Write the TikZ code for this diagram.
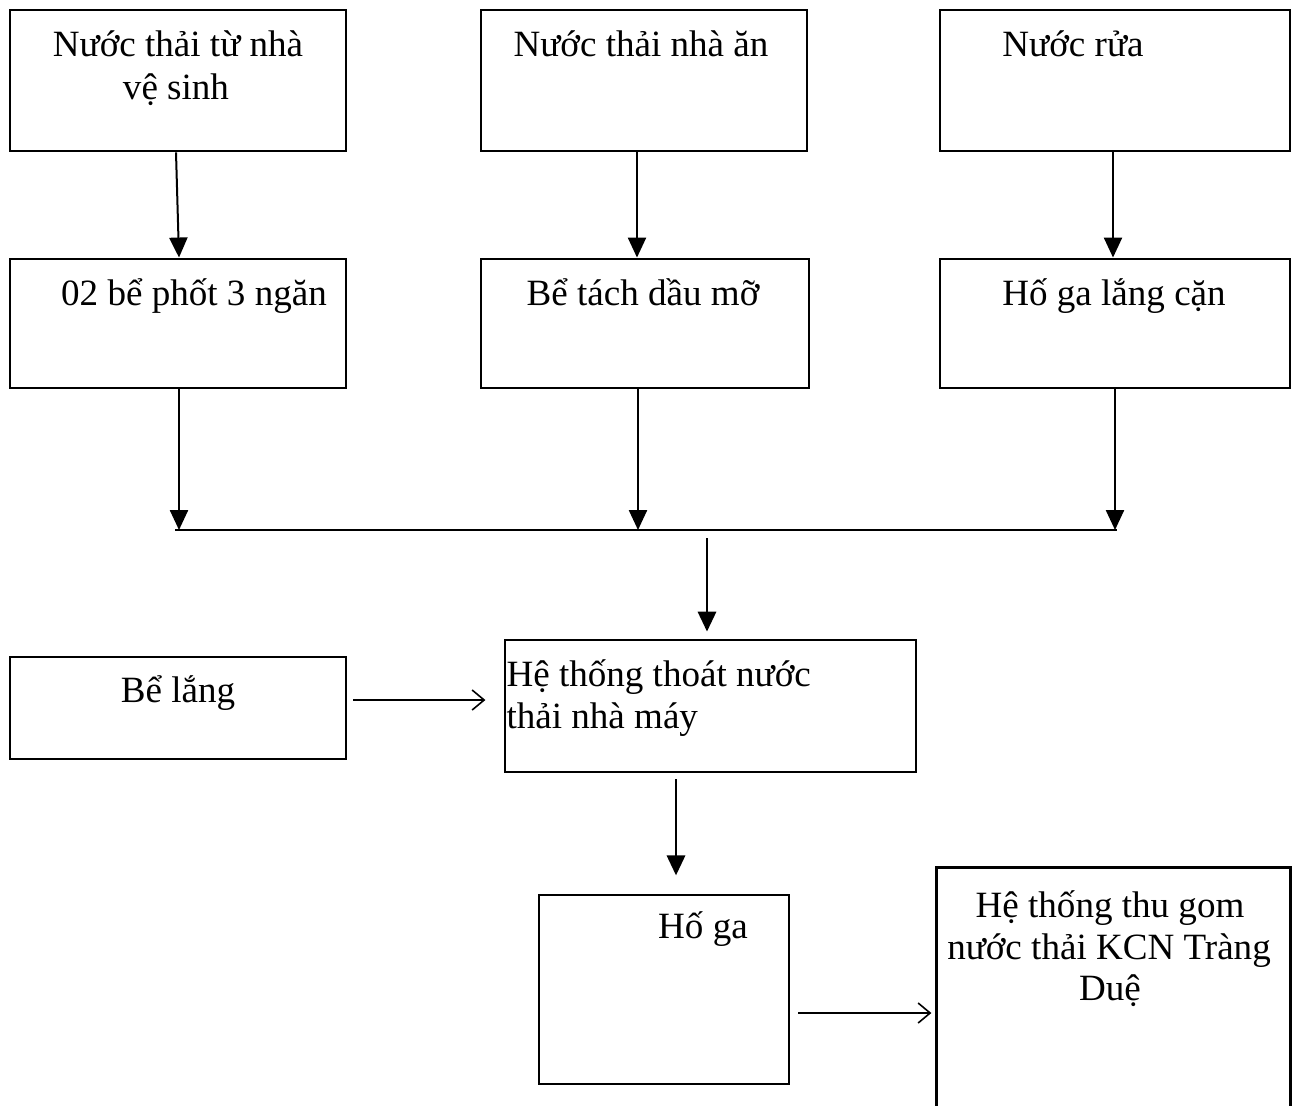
\documentclass[tikz,border=0pt]{standalone}
\usepackage{fontspec}
\setmainfont{Liberation Serif}
\usetikzlibrary{arrows.meta,fit}
\begin{document}
\begin{tikzpicture}[x=0.375pt,y=-0.375pt,
  box/.style={draw,line width=1.1pt,inner sep=0pt},
  lbl/.style={inner sep=0pt,anchor=base,font=\fontsize{13.9}{16}\selectfont},
  lbll/.style={lbl,anchor=base west},
  thinarr/.style={line width=0.75pt,-{Triangle[length=7.5pt,width=6.8pt]}},
  thickarr/.style={line width=1.1pt,-{Triangle[length=7.5pt,width=6.8pt]}},
  openarr/.style={line width=0.6pt,-{Straight Barb[length=4.5pt,width=7.5pt]}}]
\useasboundingbox (0,0) rectangle (1300,1106);

% sources
\node[box,fit={(10,10) (346,151)}] (A) {};
\node[box,fit={(481,10) (807,151)}] (B) {};
\node[box,fit={(940,10) (1290,151)}] (C) {};
\node[lbl] (A1) at (178,57) {Nước thải từ nhà};
\node[lbl] (A2) at (176,100) {vệ sinh};
\node[lbl] (B1) at (641,57) {Nước thải nhà ăn};
\node[lbl] (C1) at (1073,57) {Nước rửa};

% pre-treatment
\node[box,fit={(10,259) (346,388)}] (D) {};
\node[box,fit={(481,259) (809,388)}] (E) {};
\node[box,fit={(940,259) (1290,388)}] (F) {};
\node[lbl] (D1) at (194,305) {02 bể phốt 3 ngăn};
\node[lbl] (E1) at (643,305) {Bể tách dầu mỡ};
\node[lbl] (F1) at (1114,305) {Hố ga lắng cặn};

% collector line
\coordinate (busL) at (175,530);
\coordinate (busR) at (1117,530);
\coordinate (drop) at (707,538);
\draw[line width=1.1pt] (busL) -- (busR);

% plant drainage
\node[box,fit={(505,640) (916,772)}] (G) {};
\node[lbll] (G1) at (506,686) {Hệ thống thoát nước};
\node[lbll] (G2) at (506,728) {thải nhà máy};
\node[box,fit={(10,657) (346,759)}] (H) {};
\node[lbl] (H1) at (178,702) {Bể lắng};

% manhole and industrial park network
\node[box,fit={(539,895) (789,1084)}] (I) {};
\node[lbl] (I1) at (703,938) {Hố ga};
\node[fit={(937,868) (1290,1112)},inner sep=0pt] (J) {};
\draw[line width=1.1pt] (J.south west) -- (J.north west) -- (J.north east) -- (J.south east);
\node[lbl] (J1) at (1110,917) {Hệ thống thu gom};
\node[lbl] (J2) at (1109,959) {nước thải KCN Tràng};
\node[lbl] (J3) at (1110,1000) {Duệ};

% connectors
\draw[thinarr] (A.south -| 176,0) -- (D.north -| 179,0);
\draw[thinarr] (B.south -| 637,0) -- (E.north -| 637,0);
\draw[thinarr] (C.south -| 1113,0) -- (F.north -| 1113,0);
\draw[thinarr] (D.south -| 179,0) -- (busL -| 179,0);
\draw[thinarr] (E.south -| 638,0) -- (busL -| 638,0);
\draw[thinarr] (F.south -| 1115,0) -- (busL -| 1115,0);
\draw[thickarr,shorten >=2.6pt] (drop) -- (G.north -| 707,0);
\draw[openarr,shorten <=2.2pt,shorten >=6.8pt] (H.east |- 0,700) -- (G.west |- 0,700);
\draw[thickarr,shorten <=2.2pt,shorten >=6.8pt] (G.south -| 676,0) -- (I.north -| 676,0);
\draw[openarr,shorten <=3pt,shorten >=1.9pt] (I.east |- 0,1013) -- (J.west |- 0,1013);
\end{tikzpicture}
\end{document}
